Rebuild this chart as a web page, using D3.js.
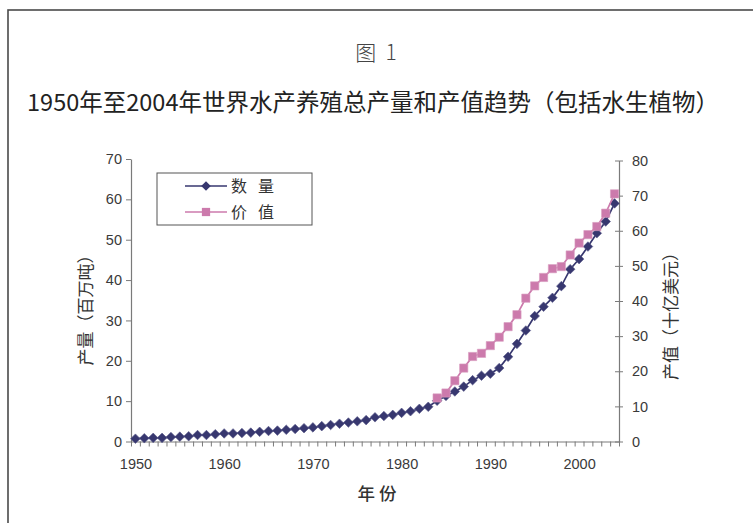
<!DOCTYPE html>
<html>
<head>
<meta charset="utf-8">
<script src="https://cdn.jsdelivr.net/npm/d3@7/dist/d3.min.js"></script>
<style>
  html, body { margin: 0; padding: 0; background: #fff; }
  svg { display: block; }
</style>
</head>
<body>
<svg id="chart" width="753" height="523"></svg>
<script>
// World aquaculture production (million tonnes) and value (billion USD), incl. aquatic plants
const years = d3.range(1950, 2005);
const quantity = [
  0.7, 0.8, 0.9, 0.9, 1.1, 1.2, 1.3, 1.6, 1.6, 1.8,
  2.0, 2.0, 2.1, 2.2, 2.4, 2.6, 2.7, 2.9, 3.1, 3.3,
  3.5, 3.8, 4.1, 4.4, 4.7, 5.0, 5.3, 6.0, 6.3, 6.6,
  7.1, 7.5, 8.1, 8.6, 10.1, 11.3, 12.4, 13.6, 15.2, 16.3,
  16.8, 18.2, 21.0, 24.2, 27.5, 31.1, 33.4, 35.6, 38.5, 42.7,
  45.2, 48.3, 51.6, 54.5, 59.0
];
const valueYears = d3.range(1984, 2005);
const value = [
  12.4, 13.8, 17.3, 20.9, 24.2, 25.1, 27.3, 29.7, 32.7, 36.1,
  40.8, 44.3, 46.7, 49.2, 49.8, 53.1, 56.5, 58.9, 61.2, 65.0, 70.5
];
const leftTicks = [0, 10, 20, 30, 40, 50, 60, 70];
const rightTicks = [0, 10, 20, 30, 40, 50, 60, 70, 80];
const yearLabels = [1950, 1960, 1970, 1980, 1990, 2000];
const seriesNames = ["数量", "价值"];

const svg = d3.select("#chart");
const blue = "#37376f", pink = "#cc7aac", axisCol = "#7a7a7a";
const sans = "'Liberation Sans', Arial, sans-serif";
const cjk = "'Noto Sans CJK SC', sans-serif";

// page frame
svg.append("rect").attr("x", 8).attr("y", 10).attr("width", 800).attr("height", 600)
  .attr("fill", "none").attr("stroke", "#4a4a4a").attr("stroke-width", 1.6);

// titles
svg.append("text").attr("x", 376).attr("y", 60).attr("text-anchor", "middle")
  .attr("font-family", cjk).attr("font-weight", 300).attr("font-size", 21).attr("fill", "#444")
  .attr("xml:space", "preserve")
  .text("图  1");
svg.append("text").attr("x", 373).attr("y", 111).attr("text-anchor", "middle")
  .attr("font-family", cjk).attr("font-size", 23.5).attr("fill", "#222")
  .text("1950年至2004年世界水产养殖总产量和产值趋势（包括水生植物）");

// scales
const x = d3.scaleLinear().domain([1949.5, 2004.5]).range([131, 619]);
const yL = d3.scaleLinear().domain([0, 70]).range([441.5, 159]);
const yR = d3.scaleLinear().domain([0, 80]).range([441.5, 160.5]);

// left axis
const gL = svg.append("g").attr("transform", "translate(131,0)")
  .call(d3.axisLeft(yL).tickValues(leftTicks).tickSize(5).tickPadding(4).tickSizeOuter(0));
// right axis (ticks cross the line)
const gR = svg.append("g").attr("transform", "translate(619,0)")
  .call(d3.axisRight(yR).tickValues(rightTicks).tickSize(4).tickPadding(9).tickSizeOuter(0));
gR.selectAll(".tick line").attr("x1", -4);
// bottom axis: category boundary ticks + decade labels
const gB = svg.append("g").attr("transform", "translate(0,441.5)")
  .call(d3.axisBottom(x).tickValues(d3.range(1949.5, 2005, 1)).tickSize(5).tickFormat("").tickSizeOuter(0));
const gB2 = svg.append("g").attr("transform", "translate(0,441.5)")
  .call(d3.axisBottom(x).tickValues(yearLabels).tickSize(0).tickPadding(17).tickFormat(d3.format("d")));
gB2.select(".domain").remove();

[gL, gR, gB].forEach(g => {
  g.select(".domain").attr("stroke", axisCol).attr("stroke-width", 1.2);
  g.selectAll(".tick line").attr("stroke", axisCol);
});
[gL, gR, gB2].forEach(g => {
  g.selectAll(".tick text").attr("font-family", sans).attr("font-size", 14.5).attr("fill", "#3a3a3a");
});

// axis titles
svg.append("text").attr("transform", "translate(92,306) rotate(-90)").attr("text-anchor", "middle")
  .attr("font-family", cjk).attr("font-size", 17).attr("fill", "#333").text("产量（百万吨）");
svg.append("text").attr("transform", "translate(677,312) rotate(-90)").attr("text-anchor", "middle")
  .attr("font-family", cjk).attr("font-size", 17).attr("fill", "#333").text("产值（十亿美元）");
svg.append("text").attr("x", 377).attr("y", 500).attr("text-anchor", "middle")
  .attr("font-family", cjk).attr("font-size", 17.5).attr("font-weight", 500).attr("fill", "#333")
  .attr("xml:space", "preserve").text("年 份");

// series
const qData = years.map((yr, i) => ({ yr, v: quantity[i] }));
const vData = valueYears.map((yr, i) => ({ yr, v: value[i] }));

const diamond = d3.symbol().type(d3.symbolSquare).size(46);
const square = d3.symbol().type(d3.symbolSquare).size(68);

svg.append("path").datum(qData)
  .attr("fill", "none").attr("stroke", blue).attr("stroke-width", 1.7)
  .attr("d", d3.line().x(d => x(d.yr)).y(d => yL(d.v)));
svg.append("g").selectAll("path").data(qData).join("path")
  .attr("transform", d => `translate(${x(d.yr)},${yL(d.v)}) rotate(45)`)
  .attr("d", diamond).attr("fill", blue).attr("stroke", "#5a5a8a").attr("stroke-width", 0.6);

svg.append("path").datum(vData)
  .attr("fill", "none").attr("stroke", pink).attr("stroke-width", 1.7)
  .attr("d", d3.line().x(d => x(d.yr)).y(d => yR(d.v)));
svg.append("g").selectAll("path").data(vData).join("path")
  .attr("transform", d => `translate(${x(d.yr)},${yR(d.v)})`)
  .attr("d", square).attr("fill", pink).attr("stroke", "#d89cc0").attr("stroke-width", 0.6);

// legend
const lg = svg.append("g");
lg.append("rect").attr("x", 157).attr("y", 173).attr("width", 155).attr("height", 52)
  .attr("fill", "#fff").attr("stroke", "#555").attr("stroke-width", 1);
const rows = [
  { name: seriesNames[0], color: blue, sym: diamond, rot: 45, y: 186 },
  { name: seriesNames[1], color: pink, sym: square, rot: 0, y: 212 }
];
rows.forEach(r => {
  lg.append("line").attr("x1", 185).attr("x2", 227).attr("y1", r.y).attr("y2", r.y)
    .attr("stroke", r.color).attr("stroke-width", 1.6);
  lg.append("path").attr("d", r.sym).attr("transform", `translate(206,${r.y}) rotate(${r.rot})`)
    .attr("fill", r.color);
  lg.append("text").attr("x", 231).attr("y", r.y + 6).attr("font-family", cjk)
    .attr("font-size", 16).attr("letter-spacing", 11).attr("fill", "#333").text(r.name);
});
</script>
</body>
</html>
